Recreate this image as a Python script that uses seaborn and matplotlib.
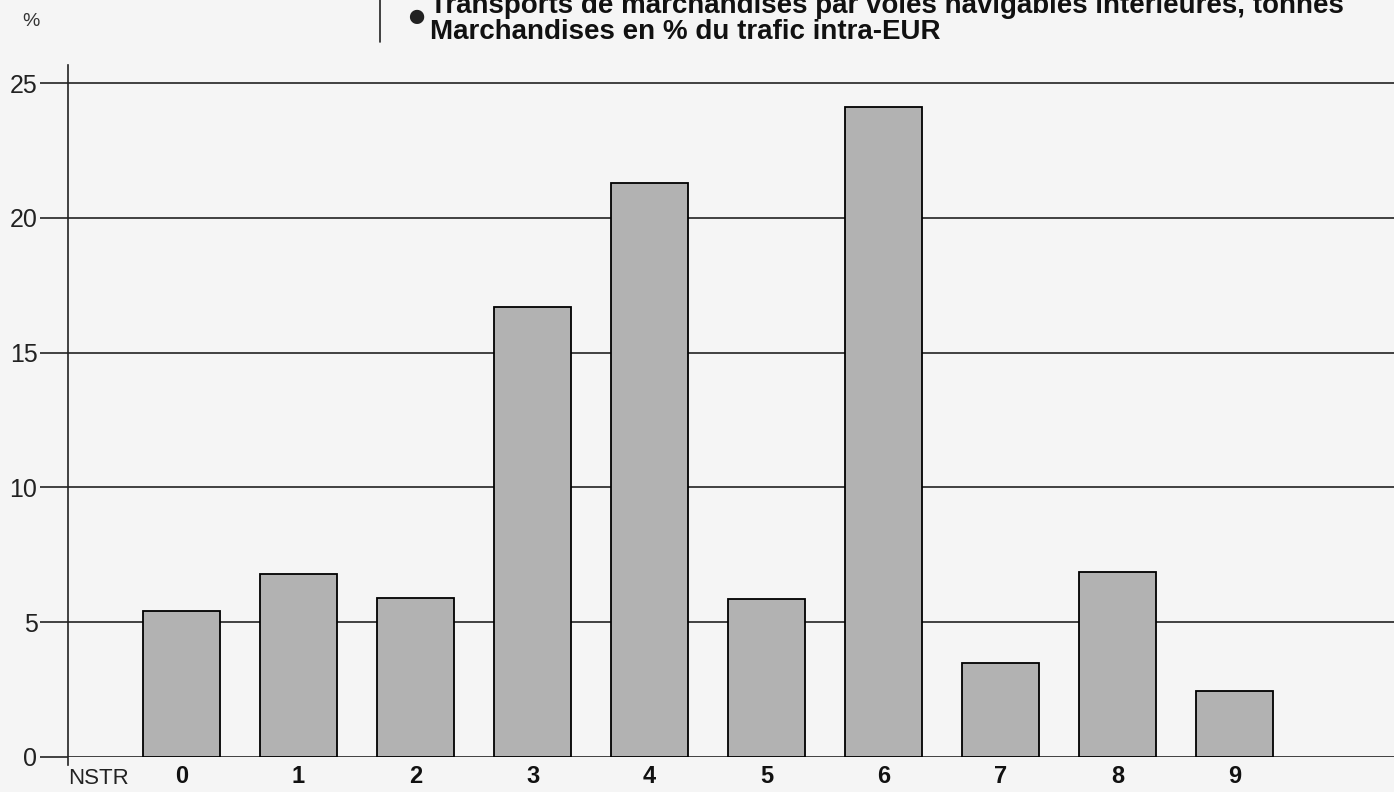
import matplotlib
matplotlib.use('Agg')
import matplotlib.pyplot as plt
import seaborn as sns
import pandas as pd
from matplotlib.lines import Line2D

# NSTR goods chapters and share of intra-EUR inland waterway traffic (%)
nstr = ['0', '1', '2', '3', '4', '5', '6', '7', '8', '9']
share = [5.4, 6.8, 5.9, 16.7, 21.3, 5.85, 24.1, 3.5, 6.85, 2.45]
yticks = [0, 5, 10, 15, 20, 25]

title1 = 'Transports de marchandises par voies navigables intérieures, tonnes'
title2 = 'Marchandises en % du trafic intra-EUR'

df = pd.DataFrame({'NSTR': nstr, 'Share': share})

sns.set_theme(style='white')
plt.rcParams['font.family'] = ['Liberation Sans', 'DejaVu Sans']

fig = plt.figure(figsize=(13.94, 7.92), dpi=100, facecolor='#f5f5f5')
ax = fig.add_axes([68 / 1394, 1 - 757 / 792, 1 - 68 / 1394, (757 - 65) / 792])
ax.set_facecolor('none')

sns.barplot(data=df, x='NSTR', y='Share', order=nstr, color='#b2b2b2',
            saturation=1, edgecolor='black', linewidth=1.3, width=0.66, ax=ax, zorder=3)

ax.set_xlim(-0.97, 10.36)
ax.set_ylim(0, 25.67)
ax.set_yticks(yticks)
ax.set_yticklabels([str(t) for t in yticks], fontsize=18, color='#222222')
ax.yaxis.grid(True, color='#222222', linewidth=1.2, zorder=1)
ax.set_axisbelow(True)
ax.tick_params(axis='y', length=20, width=1.2, color='#222222', pad=2, left=True)
ax.tick_params(axis='x', length=0, pad=6)
for lab in ax.get_xticklabels():
    lab.set_fontweight('bold')
    lab.set_fontsize(17)
    lab.set_color('#111111')
ax.set_xlabel('')
ax.set_ylabel('')

for s in ['top', 'right', 'bottom']:
    ax.spines[s].set_visible(False)
ax.spines['left'].set_color('#222222')
ax.spines['left'].set_linewidth(1.2)
ax.spines['left'].set_bounds(-0.3, 25.67)

fig.text(68 / 1394, 1 - 778 / 792, 'NSTR', ha='left', va='center',
         fontsize=16, color='#222222')

# header
fig.text(22 / 1394, 1 - 22 / 792, '%', fontsize=14, color='#333333', ha='left', va='center')
fig.add_artist(Line2D([380 / 1394, 380 / 1394], [1 - 42 / 792, 1.0],
                      color='#222222', linewidth=1.2, transform=fig.transFigure))
fig.text(416 / 1394, 1 - 17 / 792, '\u25cf', fontsize=24, color='#222222', ha='center', va='center')
fig.text(430 / 1394, 1 - 6 / 792, title1, fontsize=20, fontweight='bold', color='#111111',
         ha='left', va='center')
fig.text(430 / 1394, 1 - 32 / 792, title2, fontsize=20, fontweight='bold', color='#111111',
         ha='left', va='center')

fig.savefig('out.png', dpi=100, facecolor=fig.get_facecolor())
